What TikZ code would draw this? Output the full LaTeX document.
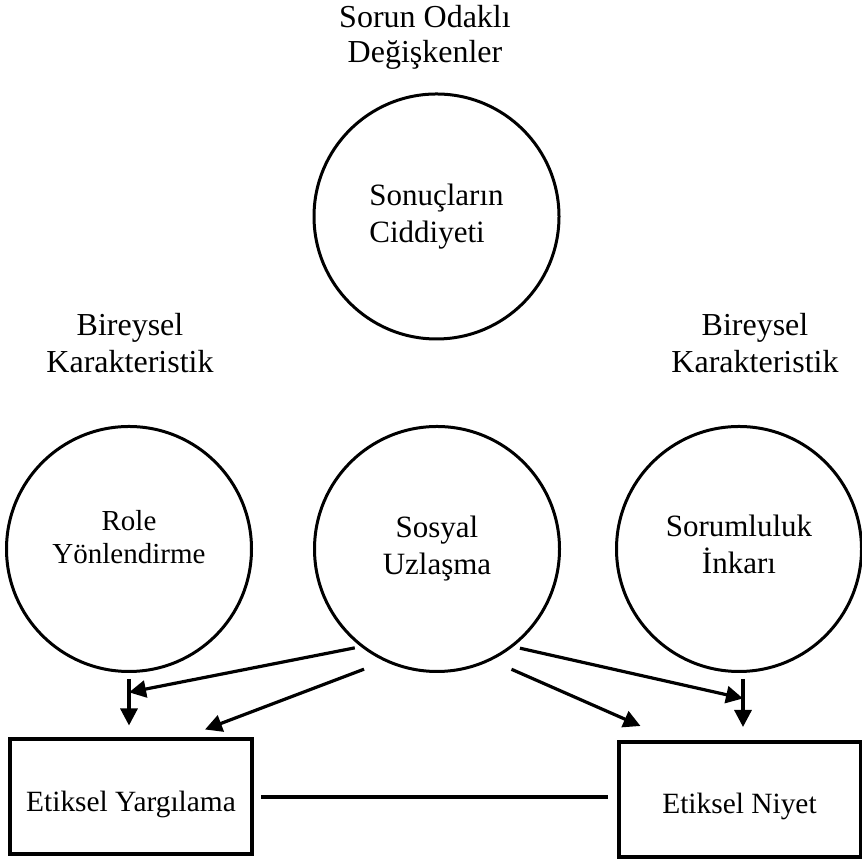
\documentclass[tikz,border=0pt]{standalone}
\usepackage{fontspec}
\setmainfont{Liberation Serif}
\usetikzlibrary{arrows.meta}

\begin{document}
\begin{tikzpicture}[x=0.5pt,y=0.5pt,
daire/.style={circle,draw,line width=1.5pt,
minimum size=122.5pt,inner sep=0pt,
align=center,font=\fontsize{15.5}{18.5}\selectfont},
kutu/.style={rectangle,draw,line width=2pt,
minimum width=121pt,minimum height=57.5pt,
inner sep=0pt,text height=17.5pt,text depth=3pt,
font=\fontsize{14.7}{17}\selectfont},
etiket/.style={align=center,inner sep=0pt,
font=\fontsize{16}{17.5}\selectfont},
ok/.style={line width=1.6pt,-{Triangle[length=8.5pt,width=8.5pt]}}
]
\useasboundingbox (0,0) rectangle (862,860);

% ust etiketler
\node[etiket] (sorun) at (425,823) {Sorun Odakl\i\\De\u{g}i\c{s}kenler};
\node[etiket,font=\fontsize{16}{18.5}\selectfont] (birsol) at (130,516.5) {Bireysel\\Karakteristik};
\node[etiket,font=\fontsize{16}{18.5}\selectfont] (birsag) at (755,516.5) {Bireysel\\Karakteristik};

% daireler
\node[daire,align=left] (ciddi) at (436.5,643.5) {Sonuçların\\Ciddiyeti};
\node[daire,font=\fontsize{14.5}{16.5}\selectfont,text depth=12pt] (role) at (129,311) {Role\\Yönlendirme};
\node[daire] (sosyal) at (437,311) {Sosyal\\Uzlaşma};
\node[daire,text depth=4.5pt] (inkar) at (739,311) {Sorumluluk\\İnkarı};

% kutular
\node[kutu] (yargi) at (131,63) {Etiksel Yargılama};
\node[kutu] (niyet) at (739.5,60.5) {Etiksel Niyet};
\draw[line width=1.6pt,shorten <=3.5pt,shorten >=4.5pt] (yargi.east) -- (yargi.east -| niyet.west);

% oklar
\coordinate (inkarust) at ([xshift=2pt]inkar.south);
\draw[ok,shorten <=3pt,shorten >=6pt] (role.south) -- coordinate[pos=.3] (rolejoin) (role.south |- yargi.north);
\draw[ok,shorten <=3pt,shorten >=6.5pt] (inkarust) -- coordinate[pos=.38] (inkarjoin) (inkarust |- niyet.north);
\draw[ok,shorten <=3pt] (sosyal.232) -- (rolejoin);
\draw[ok,shorten <=11pt] (sosyal.245) -- ([xshift=-24.5pt,yshift=4pt]yargi.north east);
\draw[ok,shorten <=11pt] (sosyal.296) -- ([xshift=12pt,yshift=7pt]niyet.north west);
\draw[ok,shorten <=3.4pt] (sosyal.308) -- (inkarjoin);

\end{tikzpicture}
\end{document}
